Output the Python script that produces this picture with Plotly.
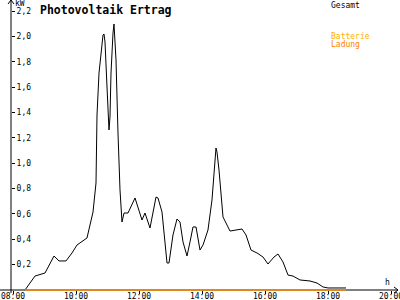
import plotly.graph_objects as go

# --- data ---
hours = [8.381, 8.698, 9.016, 9.175, 9.302, 9.460, 9.683, 9.873, 10.032, 10.349,
         10.540, 10.635, 10.667, 10.730, 10.794, 10.857, 10.889, 10.921, 10.984, 11.048,
         11.079, 11.111, 11.175, 11.206, 11.270, 11.302, 11.333, 11.397, 11.460, 11.524,
         11.651, 11.873, 12.095, 12.190, 12.349, 12.540, 12.603, 12.730, 12.889, 12.952,
         13.079, 13.206, 13.302, 13.397, 13.524, 13.619, 13.714, 13.810, 13.937, 14.032,
         14.190, 14.317, 14.444, 14.476, 14.540, 14.667, 14.889, 15.270, 15.397, 15.556,
         15.746, 15.937, 16.095, 16.286, 16.413, 16.571, 16.730, 16.889, 17.111, 17.429,
         17.651, 17.841, 18.000, 18.571]
gesamt_kw = [0.0, 0.110, 0.134, 0.213, 0.268, 0.229, 0.229, 0.292, 0.355, 0.410,
             0.615, 0.844, 1.380, 1.711, 1.869, 2.011, 2.019, 1.956, 1.601, 1.262,
             1.364, 1.711, 2.027, 2.098, 1.814, 1.498, 1.238, 0.789, 0.536, 0.607,
             0.607, 0.726, 0.552, 0.607, 0.489, 0.733, 0.726, 0.615, 0.213, 0.213,
             0.434, 0.560, 0.536, 0.379, 0.268, 0.379, 0.497, 0.497, 0.315, 0.355,
             0.473, 0.710, 1.120, 1.088, 0.946, 0.576, 0.465, 0.481, 0.434, 0.315,
             0.292, 0.260, 0.205, 0.260, 0.284, 0.221, 0.118, 0.110, 0.079, 0.071,
             0.055, 0.024, 0.016, 0.016]
batterie_hours = [8.381, 18.571]
batterie_kw = [0.0, 0.0]

y_tickvals = [0.2, 0.4, 0.6, 0.8, 1.0, 1.2, 1.4, 1.6, 1.8, 2.0, 2.2]
y_ticktext = ["0,2", "0,4", "0,6", "0,8", "1,0", "1,2", "1,4", "1,6", "1,8", "2,0", "2,2"]
x_tickvals = [8, 10, 12, 14, 16, 18, 20]
x_ticktext = ["08:00", "10:00", "12:00", "14:00", "16:00", "18:00", "20:00"]

W, H = 400, 300
def px(x): return x / W
def py(y): return 1 - y / H

fig = go.Figure()
fig.add_trace(go.Scatter(x=hours, y=gesamt_kw, mode="lines",
                         line=dict(color="black", width=1), showlegend=False, hoverinfo="skip"))
fig.add_trace(go.Scatter(x=batterie_hours, y=batterie_kw, mode="lines",
                         line=dict(color="#FF8A00", width=1.5), showlegend=False, hoverinfo="skip"))

mono = "DejaVu Sans Mono"
line_col = "black"
shapes = [
    # y axis
    dict(type="line", xref="paper", yref="paper", x0=px(11), x1=px(11), y0=py(0), y1=py(293),
         line=dict(color=line_col, width=1), layer="below"),
    dict(type="line", xref="paper", yref="paper", x0=px(8), x1=px(11), y0=py(4), y1=py(0),
         line=dict(color=line_col, width=1)),
    dict(type="line", xref="paper", yref="paper", x0=px(14), x1=px(11), y0=py(4), y1=py(0),
         line=dict(color=line_col, width=1)),
    # x axis
    dict(type="line", xref="paper", yref="paper", x0=px(0), x1=px(398), y0=py(290), y1=py(290),
         line=dict(color=line_col, width=1), layer="below"),
    dict(type="line", xref="paper", yref="paper", x0=px(394), x1=px(398), y0=py(287), y1=py(290),
         line=dict(color=line_col, width=1)),
    dict(type="line", xref="paper", yref="paper", x0=px(394), x1=px(398), y0=py(293), y1=py(290),
         line=dict(color=line_col, width=1)),
]

def ann(text, x, y, size, color="black", bold=False, xanchor="left", yanchor="top"):
    return dict(text=("<b>%s</b>" % text) if bold else text, x=px(x), y=py(y),
                xref="paper", yref="paper", showarrow=False, xanchor=xanchor, yanchor=yanchor,
                font=dict(family=mono, size=size, color=color))

annotations = [
    ann("Photovoltaik Ertrag", 38, 1, 11.5, bold=True),
    ann("kW", 13, -3, 8),
    ann("Gesamt", 329, -1, 8),
    ann("Batterie", 329, 30, 8, color="#FFB000"),
    ann("Ladung", 329, 38, 8, color="#FF8000"),
    ann("h", 383, 276, 8),
]

fig.update_layout(
    width=W, height=H,
    margin=dict(l=0, r=0, t=0, b=0, autoexpand=False),
    paper_bgcolor="white", plot_bgcolor="white",
    shapes=shapes, annotations=annotations,
    xaxis=dict(range=[8 + (0 - 13) / 31.5, 8 + (400 - 13) / 31.5], domain=[0, 1],
               showgrid=False, zeroline=False, showline=False, automargin=False,
               tickvals=x_tickvals, ticktext=x_ticktext, ticks="outside", ticklen=3,
               tickcolor="black", anchor="free", position=py(290),
               ticklabelstandoff=-5, ticklabeloverflow="allow",
               tickfont=dict(family=mono, size=8, color="black")),
    yaxis=dict(range=[(290 - 300) / 126.8, 290 / 126.8], domain=[0, 1],
               showgrid=False, zeroline=False, showline=False, automargin=False,
               tickvals=y_tickvals, ticktext=y_ticktext, ticks="outside", ticklen=3,
               tickcolor="black", anchor="free", position=px(11), side="right",
               tickfont=dict(family=mono, size=8, color="black")),
)

fig.write_html("out.html")
